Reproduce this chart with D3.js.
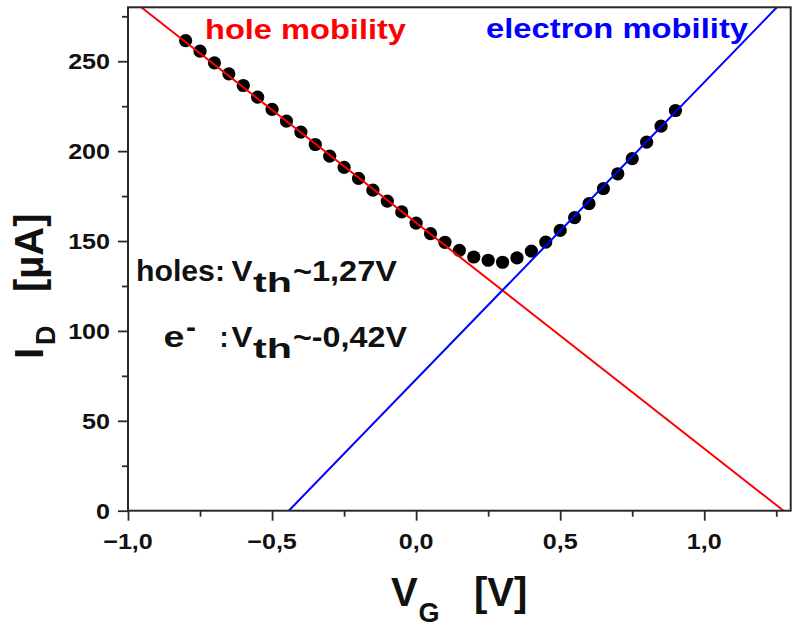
<!DOCTYPE html>
<html><head><meta charset="utf-8">
<script src="https://cdn.jsdelivr.net/npm/d3@7"></script>
<style>
body{margin:0;background:#fff}
text{font-family:"Liberation Sans",Arial,sans-serif;font-weight:bold}
</style>
</head><body>
<svg id="c" width="800" height="631"></svg>
<script>
// ---- data ----
const vg = [-0.80,-0.75,-0.70,-0.65,-0.60,-0.55,-0.50,-0.45,-0.40,-0.35,-0.30,-0.25,-0.20,-0.15,-0.10,-0.05,0.00,0.05,0.10,0.15,0.20,0.25,0.30,0.35,0.40,0.45,0.50,0.55,0.60,0.65,0.70,0.75,0.80,0.85,0.90];
const idMeasured = [261.5,255.6,249.1,243.0,236.5,230.0,223.2,216.7,210.6,203.7,197.2,191.0,184.8,178.3,172.2,166.2,160.0,154.1,149.3,144.8,141.1,139.3,138.2,140.6,144.4,149.4,155.9,163.0,170.8,179.1,187.4,195.8,205.0,213.9,222.6];
const holeFitV = [-0.954, 1.275];
const holeFitI = [280, 0];
const electronFitV = [-0.442, 1.252];
const electronFitI = [0, 280];
const xMajorTicks = [-1.0, -0.5, 0.0, 0.5, 1.0];
const xMinorTicks = [-0.75, -0.25, 0.25, 0.75, 1.25];
const yMajorTicks = [0, 50, 100, 150, 200, 250];
const yMinorTicks = [25, 75, 125, 175, 225, 275];
const xDomain = [-1.0, 1.3];
const yDomain = [0, 280];

// ---- layout ----
const L = 128, R = 790.7, T = 7.3, B = 510.7;
const svg = d3.select("#c");
const x = d3.scaleLinear().domain(xDomain).range([L, R]);
const y = d3.scaleLinear().domain(yDomain).range([B, T]);
const fmt = d3.formatLocale({decimal:",", thousands:".", grouping:[3], currency:["",""]}).format(".1f");

svg.append("defs").append("clipPath").attr("id","clip")
  .append("rect").attr("x",L).attr("y",T).attr("width",R-L).attr("height",B-T);

// data points
svg.append("g").selectAll("circle").data(vg).join("circle")
  .attr("cx", d => x(d)).attr("cy", (d,i) => y(idMeasured[i])).attr("r", 6.6).attr("fill", "#000");

// fit lines
const line = d3.line().x(d => x(d[0])).y(d => y(d[1]));
const gl = svg.append("g").attr("clip-path","url(#clip)");
gl.append("path").attr("d", line(holeFitV.map((v,i)=>[v, holeFitI[i]])))
  .attr("stroke","#ff0000").attr("stroke-width",2).attr("fill","none");
gl.append("path").attr("d", line(electronFitV.map((v,i)=>[v, electronFitI[i]])))
  .attr("stroke","#0000ff").attr("stroke-width",2).attr("fill","none");

// frame
svg.append("rect").attr("x",L).attr("y",T).attr("width",R-L).attr("height",B-T)
  .attr("fill","none").attr("stroke","#2a2a2a").attr("stroke-width",2);

// axes
const ax = svg.append("g").attr("transform",`translate(0,${B})`)
  .call(d3.axisBottom(x).tickValues(xMajorTicks).tickSize(10).tickFormat(""));
const axm = svg.append("g").attr("transform",`translate(0,${B})`)
  .call(d3.axisBottom(x).tickValues(xMinorTicks).tickSize(6).tickFormat(""));
const ay = svg.append("g").attr("transform",`translate(${L},0)`)
  .call(d3.axisLeft(y).tickValues(yMajorTicks).tickSize(10).tickFormat(""));
const aym = svg.append("g").attr("transform",`translate(${L},0)`)
  .call(d3.axisLeft(y).tickValues(yMinorTicks).tickSize(6).tickFormat(""));
[ax,axm,ay,aym].forEach(g=>{
  g.select(".domain").remove();
  g.selectAll("line").attr("stroke","#2a2a2a").attr("stroke-width",1.8);
});

const SX = 1.14;
svg.append("g").selectAll("text").data(xMajorTicks).join("text")
  .attr("transform", d => `translate(${x(d)},549) scale(${SX},1)`)
  .attr("text-anchor","middle").attr("font-size",22).attr("fill","#111")
  .text(d => fmt(d));
svg.append("g").selectAll("text").data(yMajorTicks).join("text")
  .attr("transform", d => `translate(110,${y(d)+8}) scale(${SX},1)`)
  .attr("text-anchor","end").attr("font-size",22).attr("fill","#111")
  .text(d => d);

// helper for fitted text
function t(x0, y0, s, size, len, fill){
  const el = svg.append("text").attr("x",x0).attr("y",y0).attr("font-size",size)
    .attr("fill",fill||"#111").text(s);
  if (len) el.attr("textLength",len).attr("lengthAdjust","spacingAndGlyphs");
  return el;
}

// series labels
t(205, 39, "hole mobility", 28, 201, "#ff0000");
t(486, 38, "electron mobility", 28, 262, "#0000ff");

// annotations
t(136, 281, "holes:", 29, 89);
t(231.5, 281, "V", 29, 21);
t(253, 292, "th", 28, 39);
t(293, 281, "~1,27V", 29, 104);
t(163.5, 347, "e", 29, 21);
t(186, 337, "-", 29, 10);
t(219.5, 347, ":", 29, 9);
t(231.5, 347, "V", 29, 21);
t(253, 358, "th", 28, 39);
t(293, 347, "~-0,42V", 29, 114);

// axis titles
t(391, 606, "V", 40);
t(418.5, 622, "G", 27);
t(474, 606, "[V]", 40);
const yt = svg.append("g").attr("transform","translate(43,359) rotate(-90)");
yt.append("text").attr("x",0).attr("y",0).attr("font-size",40).attr("fill","#111").text("I");
yt.append("text").attr("x",14).attr("y",12).attr("font-size",27).attr("fill","#111").text("D");
yt.append("text").attr("x",67).attr("y",0).attr("font-size",40).attr("fill","#111").text("[µA]");
</script>
</body></html>
